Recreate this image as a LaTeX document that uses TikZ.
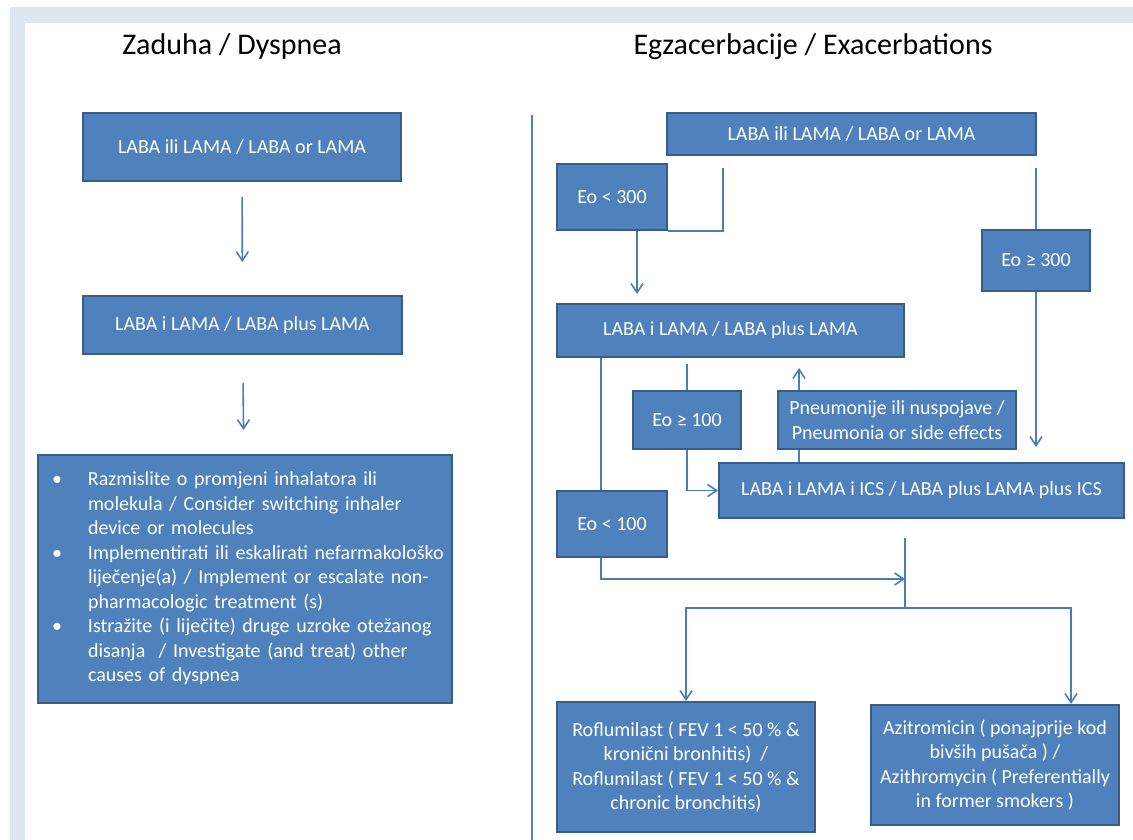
\documentclass[tikz,border=0pt]{standalone}
\usepackage{fontspec}
\setmainfont{Carlito}
\usetikzlibrary{arrows.meta,calc}
\definecolor{boxfill}{RGB}{79,129,189}
\definecolor{boxline}{RGB}{56,93,138}
\definecolor{conn}{RGB}{74,126,187}
\definecolor{framebg}{RGB}{222,230,242}
\pgfdeclarelayer{back}
\pgfdeclarelayer{bg}
\pgfsetlayers{back,bg,main}
\begin{document}
\begin{tikzpicture}[x=1pt,y=-1pt,
  box/.style={draw=boxline, fill=boxfill, line width=2pt, text=white,
    font=\fontsize{20}{24.5}\selectfont, align=center, inner sep=0pt},
  ln/.style={draw=conn, line width=1.6pt},
  arr/.style={ln, -{Straight Barb[length=9pt,width=12pt]}},
  ttl/.style={font=\fontsize{30}{36}\selectfont, text=black, inner sep=0pt}]
\useasboundingbox (0,0) rectangle (1133,840);
\begin{pgfonlayer}{back}
  \fill[white] (0,0) rectangle (1133,840);
  \fill[framebg] (10,7) rectangle (1133,840);
  \fill[white] (25,23) rectangle (1133,840);
\end{pgfonlayer}

% titles
\node[ttl] (T1) at (232,47) {Zaduha / Dyspnea};
\node[ttl] (T2) at (813,47) {Egzacerbacije / Exacerbations};

% separator
\coordinate (s1) at (532,115);
\coordinate (s2) at (532,840);
\draw[draw=boxfill, line width=1.5pt] (s1) -- (s2);

% left column
\node[box, minimum width=318pt, minimum height=68pt] (L1) at (242,147) {LABA ili LAMA / LABA or LAMA};
\node[box, minimum width=319pt, minimum height=58pt] (L2) at (242.5,325) {LABA i LAMA / LABA plus LAMA};
\node[box, minimum width=414pt, minimum height=248pt, text width=386pt, align=left] (L3) at (245,579)
{\begin{tabular}{@{}p{36pt}@{}l@{}}
\textbullet & Razmislite o promjeni inhalatora ili\\
 & molekula / Consider switching inhaler\\
 & device or molecules\\
\textbullet & Implementirati ili eskalirati nefarmakološko\\
 & liječenje(a) / Implement or escalate non-\\
 & pharmacologic treatment (s)\\
\textbullet & Istražite (i liječite) druge uzroke otežanog\\
 & disanja ~/ Investigate (and treat) other\\
 & causes of dyspnea
\end{tabular}};

% right column
\node[box, minimum width=369pt, minimum height=42pt] (R1) at (851.5,134) {LABA ili LAMA / LABA or LAMA};
\node[box, minimum width=110pt, minimum height=66pt] (E300lt) at (612,197) {Eo < 300};
\node[box, minimum width=347pt, minimum height=53pt] (R2) at (730.5,330.5) {LABA i LAMA / LABA plus LAMA};
\node[box, minimum width=108pt, minimum height=61pt] (E300ge) at (1036,260.5) {Eo ≥ 300};
\node[box, minimum width=108pt, minimum height=58pt] (E100ge) at (687,420) {Eo ≥ 100};
\node[box, minimum width=238pt, minimum height=58pt] (PN) at (897,420) {Pneumonije ili nuspojave /\\Pneumonia or side effects};
\node[box, minimum width=405pt, minimum height=55pt] (ICS) at (921.5,490.5) {LABA i LAMA i ICS / LABA plus LAMA plus ICS};
\node[box, minimum width=110pt, minimum height=66pt] (E100lt) at (612,524) {Eo < 100};
\node[box, minimum width=258pt, minimum height=130pt] (ROF) at (686,767)
  {Roflumilast ( FEV 1 < 50 \% \&\\kronični bronhitis) ~/\\Roflumilast ( FEV 1 < 50 \% \&\\chronic bronchitis)};
\node[box, minimum width=248pt, minimum height=120pt] (AZI) at (995,765)
  {Azitromicin ( ponajprije kod\\bivših pušača ) /\\Azithromycin ( Preferentially\\in former smokers )};

% helper coordinates
\coordinate (c1) at ($(R1.south west)+(57,12)$);
\coordinate (c2) at ($(E300lt.south)+(25,0)$);
\coordinate (c3) at ($(E100lt.north)+(-11,0)$);
\coordinate (c4) at ($(PN.south west)+(22,0)$);
\coordinate (v) at ($(ICS.south)+(-16.5,0)$);
\coordinate (j) at ($(v)+(0,60)$);
\coordinate (h) at ($(v)+(0,89)$);
\coordinate (a5) at ($(AZI.north)+(76,0)$);

\begin{pgfonlayer}{bg}
  \draw[arr, shorten <=15pt, shorten >=33pt] (L1) -- (L2);
  \draw[arr, shorten <=28pt, shorten >=24pt] (L2) -- (L3);
  \draw[ln] (c1) |- (E300lt.south east);
  \draw[arr, shorten >=9pt] (c2) -- (c2 |- R2.north);
  \draw[ln] ($(E300ge.north)+(0,-61)$) -- (E300ge.north);
  \draw[arr, shorten >=15pt] (E300ge.south) -- (E300ge.south |- ICS.north);
  \draw[ln] (c3 |- R2.south) -- (c3);
  \draw[ln, shorten <=6pt] (E100ge.north |- R2.south) -- (E100ge.north);
  \draw[arr] (E100ge.south) |- (ICS.west);
  \draw[arr, shorten >=10pt] (c4 |- ICS.north) -- (c4 |- R2.south);
  \draw[arr] (c3 |- E100lt.south) |- (j);
  \draw[ln] ($(v)+(0,19)$) -- (h);
  \draw[arr] (h) -| (ROF.north);
  \draw[arr] (h) -| (a5);
\end{pgfonlayer}
\end{tikzpicture}
\end{document}
